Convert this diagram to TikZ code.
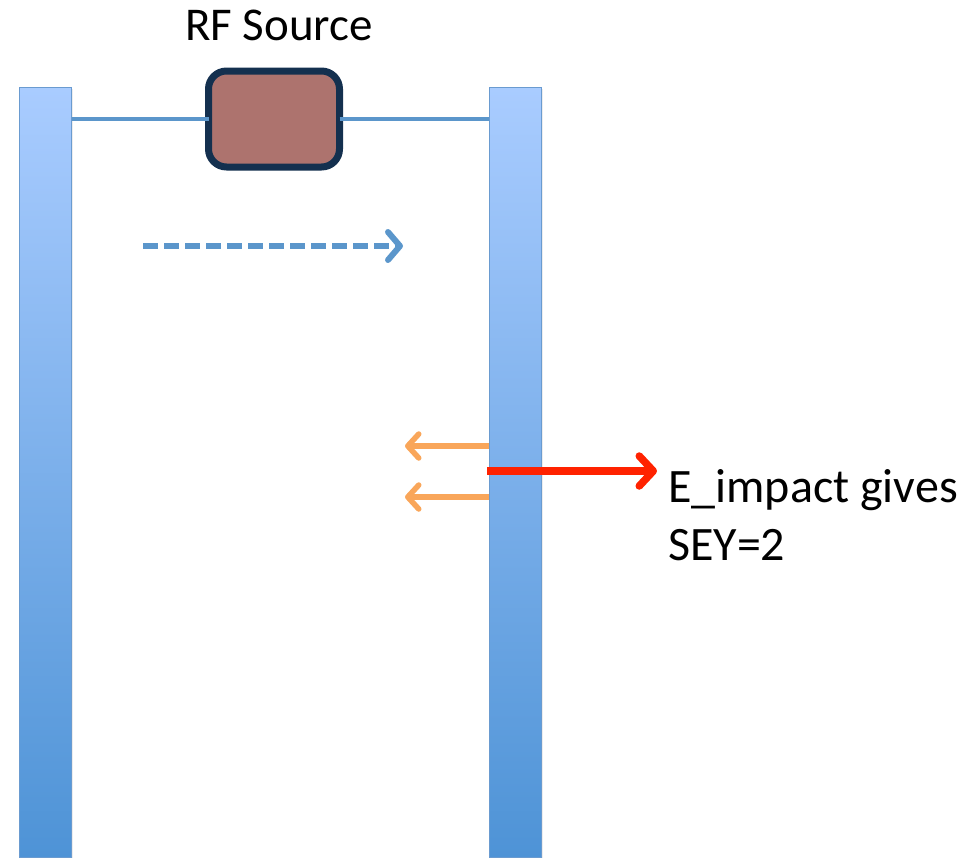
\documentclass[tikz,border=0pt]{standalone}
\usepackage{fontspec}
\setmainfont{Carlito}
\usetikzlibrary{arrows.meta,shadows}
\definecolor{bartop}{HTML}{A9CCFF}
\definecolor{barbot}{HTML}{4E93D6}
\definecolor{barline}{HTML}{6A9BD0}
\definecolor{wire}{HTML}{5B96CB}
\definecolor{srcfill}{HTML}{AD736E}
\definecolor{srcline}{HTML}{14304F}
\definecolor{orng}{HTML}{F9A65A}
\definecolor{redarr}{HTML}{FF2200}
\tikzset{
  x=1pt, y=-1pt,
  plate/.style={draw=barline, line width=1pt, top color=bartop, bottom color=barbot,
    minimum width=52pt, minimum height=770pt, inner sep=0pt, anchor=north west,
    drop shadow={shadow xshift=1pt, shadow yshift=-1pt, opacity=0.15}},
  source/.style={draw=srcline, line width=7pt, fill=srcfill, rounded corners=18pt,
    minimum width=131pt, minimum height=96pt, inner sep=0pt,
    drop shadow={shadow xshift=2pt, shadow yshift=-3pt, opacity=0.25}},
  wireline/.style={draw=wire, line width=4.5pt},
  label/.style={font=\fontsize{47}{58}\selectfont, inner sep=0pt},
}
\begin{document}
\begin{tikzpicture}
\useasboundingbox (0,0) rectangle (969,857);
\node[plate] (L) at (19,87) {};
\node[plate] (R) at (489,87) {};
\node[source] (S) at (274,119) {};
\node[label, anchor=base] (T) at (279,40) {RF Source};
\draw[wireline] (L.east |- S.west) -- ([xshift=3.5pt]S.west);
\draw[wireline] ([xshift=-3.5pt]S.east) -- (R.west |- S.east);
\coordinate (d1) at (143,246);
\coordinate (d2) at (403,246);
\draw[draw=wire, line width=6pt, dash pattern=on 15pt off 6pt, -{Straight Barb[length=12pt,width=28pt,line cap=round,line join=round]}] (d1) -- (d2);
\coordinate (o1) at (489,446);
\coordinate (o1e) at (405,446);
\coordinate (o2) at (489,497);
\coordinate (o2e) at (405,497);
\draw[draw=orng, line width=5.5pt, -{Straight Barb[length=11pt,width=24pt,line cap=round,line join=round]}] (o1) -- (o1e);
\draw[draw=orng, line width=5.5pt, -{Straight Barb[length=11pt,width=24pt,line cap=round,line join=round]}] (o2) -- (o2e);
\node[label, anchor=base west, font=\fontsize{48}{58}\selectfont] (E) at (668,502) {E\_impact gives};
\node[label, anchor=base west, font=\fontsize{48}{58}\selectfont] (Y) at (668,560) {SEY=2};
\coordinate (r1) at (487,471);
\coordinate (r2) at (657,471);
\draw[draw=redarr, line width=7.5pt, -{Straight Barb[length=14pt,width=30pt,line cap=round,line join=round]}] (r1) -- (r2);
\end{tikzpicture}
\end{document}
